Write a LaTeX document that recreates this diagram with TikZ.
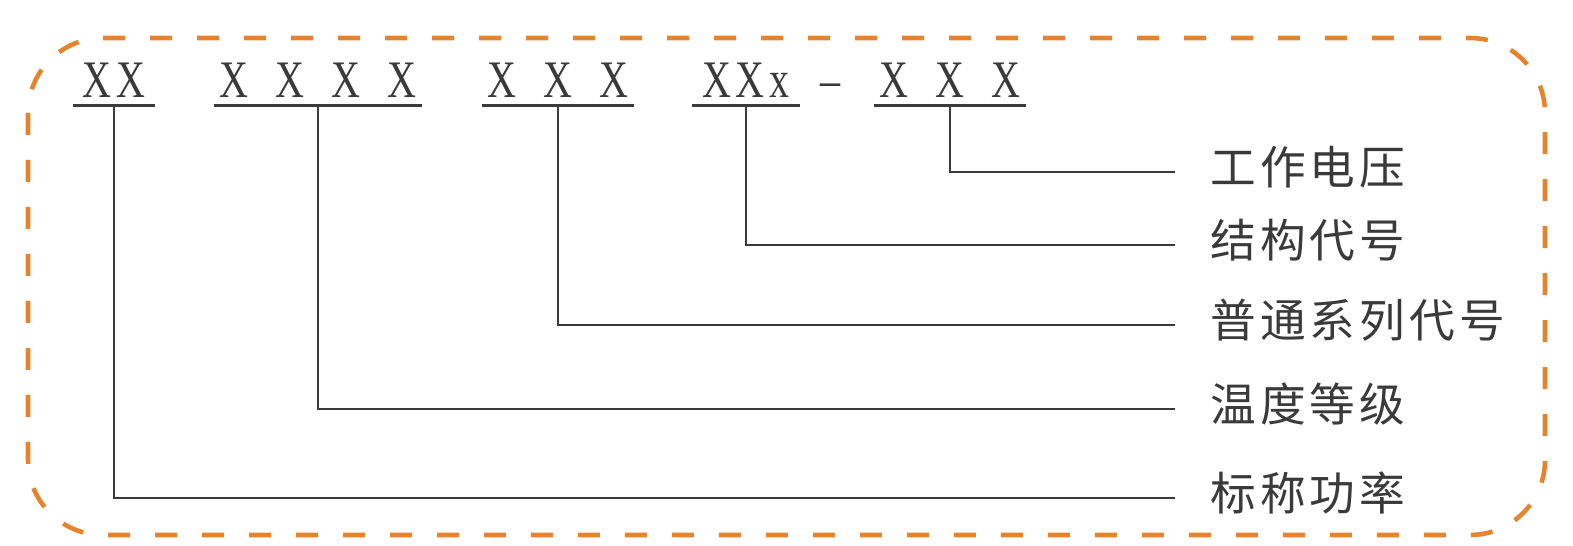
\documentclass[tikz,border=0pt]{standalone}
\usepackage{fontspec}
\newfontfamily\codefont{Liberation Serif}[FakeStretch=0.76]
\newfontfamily\cjk{Noto Sans CJK SC}[LetterSpace=9]
\definecolor{DashOrange}{HTML}{E5842C}
\definecolor{Ink}{HTML}{3A3A3A}
\newcommand\xsp{\hspace{0.54cm}}
\newcommand\nsp{\hspace{0.1cm}}

\begin{document}
\begin{tikzpicture}[x=0.02cm,y=-0.02cm,
  code/.style={font=\codefont\fontsize{30}{32}\selectfont,text=Ink,anchor=base,inner xsep=0pt,inner ysep=0.14cm},
  part/.style={font=\cjk\fontsize{26}{30}\selectfont,text=Ink,anchor=west,inner xsep=0.7cm,text height=0.7cm,text depth=0.2cm},
  lead/.style={Ink,line width=0.9pt}]
\useasboundingbox (0,0) rectangle (1573,546);
\draw[DashOrange,line width=2.6pt,dash pattern=on 0.44cm off 0.5cm,rounded corners=1.5cm] (28,38) rectangle (1545,535);
% model code
\node[code,minimum width=1.64cm] (nominal) at (114,98) {X\nsp X\hspace{0.34cm}};
\node[code,minimum width=4.14cm] (temp) at (318,98) {X\xsp X\xsp X\xsp X};
\node[code,minimum width=3.04cm] (series) at (558,98) {X\xsp X\xsp X};
\node[code,minimum width=2.16cm] (struct) at (746,98) {X\nsp X\nsp x\hspace{0.2cm}};
\node[code] (hyph) at (831,98) {\textendash};
\node[code,minimum width=3.04cm] (volt) at (950,98) {X\xsp X\xsp X};
\foreach \g in {nominal,temp,series,struct,volt}
  \draw[Ink,line width=1.4pt] (\g.south west) -- (\g.south east);
% meanings
\node[part] (lvolt) at (1175,172) {工作电压};
\node[part] (lstruct) at (1175,245) {结构代号};
\node[part] (lseries) at (1175,325) {普通系列代号};
\node[part] (ltemp) at (1175,409) {温度等级};
\node[part] (lnominal) at (1175,498) {标称功率};
\draw[lead] (volt.south) |- (lvolt.west);
\draw[lead] (struct.south) |- (lstruct.west);
\draw[lead] (series.south) |- (lseries.west);
\draw[lead] (temp.south) |- (ltemp.west);
\draw[lead] (nominal.south) |- (lnominal.west);
\end{tikzpicture}
\end{document}
